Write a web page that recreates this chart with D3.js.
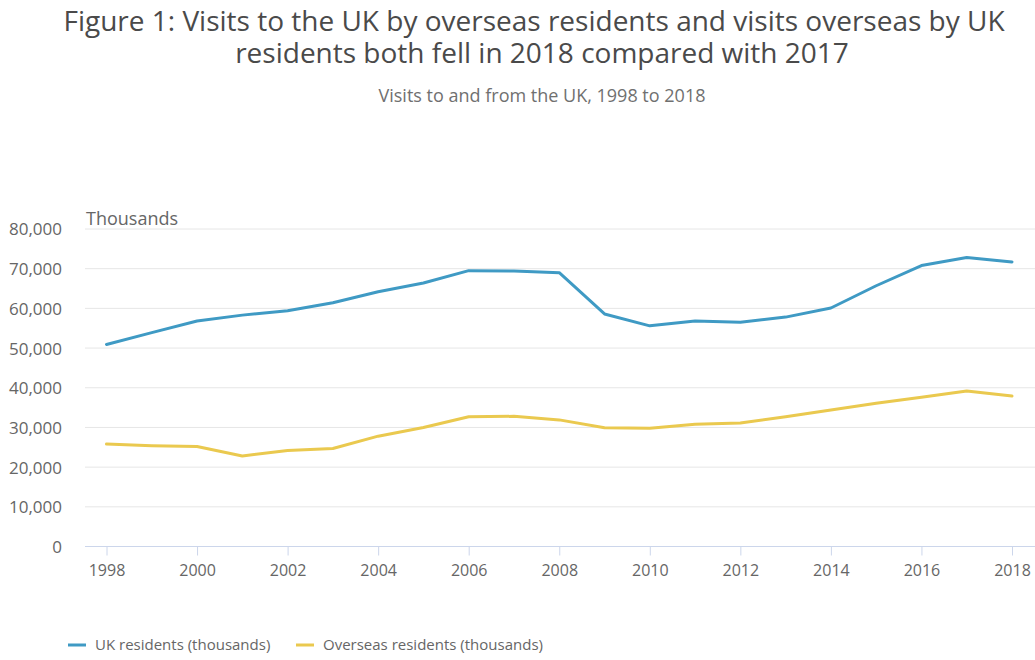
<!DOCTYPE html>
<html>
<head>
<meta charset="utf-8">
<script src="https://cdn.jsdelivr.net/npm/d3@7"></script>
<style>
  body { margin: 0; background: #fff; }
  svg { display: block; font-family: "Open Sans", sans-serif; }
</style>
</head>
<body>
<svg width="1035" height="660"></svg>
<script>
const years = [1998, 1999, 2000, 2001, 2002, 2003, 2004, 2005, 2006, 2007, 2008,
               2009, 2010, 2011, 2012, 2013, 2014, 2015, 2016, 2017, 2018];
const ukResidents = [50900, 53900, 56800, 58300, 59400, 61400, 64200, 66400, 69500, 69400, 69000,
                     58600, 55600, 56800, 56500, 57800, 60100, 65700, 70800, 72800, 71700];
const overseasResidents = [25800, 25400, 25200, 22800, 24200, 24700, 27800, 30000, 32700, 32800, 31900,
                           29900, 29800, 30800, 31100, 32700, 34400, 36100, 37600, 39200, 37900];
const yTicks = [0, 10000, 20000, 30000, 40000, 50000, 60000, 70000, 80000];
const xTicks = [1998, 2000, 2002, 2004, 2006, 2008, 2010, 2012, 2014, 2016, 2018];
const seriesNames = ["UK residents (thousands)", "Overseas residents (thousands)"];
const seriesColors = ["#3f9ac4", "#eac94f"];

const svg = d3.select("svg");
const area = { left: 85, right: 1035, top: 229, bottom: 546.5 };

// titles
const title = svg.append("text")
    .attr("text-anchor", "middle")
    .attr("fill", "#4a4a4a")
    .style("font-size", "28px");
title.append("tspan").attr("x", 534).attr("y", 31)
    .text("Figure 1: Visits to the UK by overseas residents and visits overseas by UK");
title.append("tspan").attr("x", 542).attr("y", 63)
    .text("residents both fell in 2018 compared with 2017");

svg.append("text")
    .attr("x", 542).attr("y", 102)
    .attr("text-anchor", "middle")
    .attr("fill", "#707070")
    .style("font-size", "18px")
    .text("Visits to and from the UK, 1998 to 2018");

const scX = d3.scaleLinear().domain([1998, 2018]).range([106.5, 1012]);
const scY = d3.scaleLinear().domain([0, 80000]).range([area.bottom, area.top]);

// grid
svg.append("g")
    .selectAll("line")
    .data(yTicks.filter(d => d > 0))
    .enter()
    .append("line")
    .attr("x1", area.left).attr("x2", area.right)
    .attr("y1", d => scY(d)).attr("y2", d => scY(d))
    .attr("stroke", "#e6e6e6")
    .attr("stroke-width", 1);

// y axis labels
const axisY = d3.axisLeft(scY).tickValues(yTicks).tickSize(0).tickPadding(0)
    .tickFormat(d3.format(","));
const gY = svg.append("g")
    .attr("transform", `translate(62, 0)`)
    .call(axisY);
gY.select(".domain").remove();
gY.selectAll("text")
    .attr("fill", "#666")
    .attr("dy", "0.35em")
    .style("font-size", "17px")
    .style("font-family", "'Open Sans', sans-serif");

svg.append("text")
    .attr("x", 86).attr("y", 225)
    .attr("fill", "#666")
    .style("font-size", "18px")
    .text("Thousands");

// x axis
const axisX = d3.axisBottom(scX).tickValues(xTicks).tickSize(9).tickPadding(9)
    .tickFormat(d3.format("d"));
const gX = svg.append("g")
    .attr("transform", `translate(0, ${area.bottom})`)
    .call(axisX);
gX.select(".domain").remove();
gX.insert("line", ":first-child")
    .attr("x1", area.left).attr("x2", area.right)
    .attr("stroke", "#ccd6eb");
gX.selectAll(".tick line").attr("stroke", "#ccd6eb");
gX.selectAll("text")
    .attr("fill", "#666")
    .style("font-size", "16px")
    .style("font-family", "'Open Sans', sans-serif");

// lines
const lineGenerator = d3.line()
    .x((d, i) => scX(years[i]))
    .y(d => scY(d));

[ukResidents, overseasResidents].forEach((values, k) => {
    svg.append("path")
        .datum(values)
        .attr("fill", "none")
        .attr("stroke", seriesColors[k])
        .attr("stroke-width", 3)
        .attr("stroke-linejoin", "round")
        .attr("stroke-linecap", "round")
        .attr("d", lineGenerator);
});

// legend
const legendX = [68, 296];
const legend = svg.append("g");
seriesNames.forEach((name, k) => {
    legend.append("line")
        .attr("x1", legendX[k]).attr("x2", legendX[k] + 18)
        .attr("y1", 645).attr("y2", 645)
        .attr("stroke", seriesColors[k])
        .attr("stroke-width", 3);
    legend.append("text")
        .attr("x", legendX[k] + 27).attr("y", 650)
        .attr("fill", "#666")
        .style("font-size", "15px")
        .text(name);
});
</script>
</body>
</html>
